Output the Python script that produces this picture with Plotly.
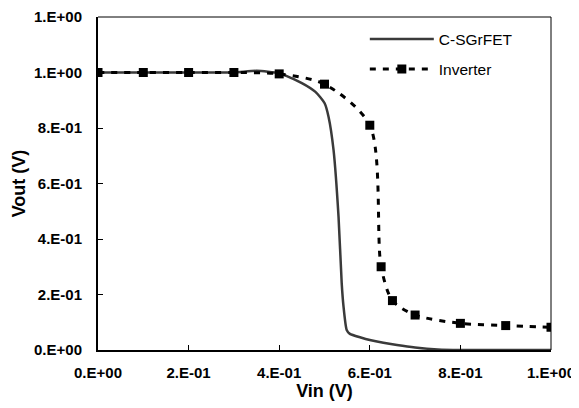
import plotly.graph_objects as go

# C-SGrFET transfer curve
fet_vin = [0.0, 0.1, 0.2, 0.3, 0.35, 0.4, 0.45, 0.48, 0.5, 0.509, 0.52, 0.531, 0.538, 0.542, 0.549,
           0.556, 0.58, 0.6, 0.63, 0.66, 0.7, 0.75, 0.8, 0.9, 1.0]
fet_vout = [1.0, 1.0, 1.0, 1.0, 1.006, 0.997, 0.962, 0.93, 0.89, 0.84, 0.72, 0.48, 0.24, 0.156, 0.072,
            0.058, 0.045, 0.036, 0.026, 0.018, 0.009, 0.002, 0.0, 0.0, 0.0]

# Inverter transfer curve (markers)
inv_vin = [0.0, 0.1, 0.2, 0.3, 0.4, 0.5, 0.6, 0.625, 0.65, 0.7, 0.8, 0.9, 1.0]
inv_vout = [1.0, 1.0, 1.0, 1.0, 0.995, 0.958, 0.81, 0.30, 0.178, 0.126, 0.096, 0.088, 0.082]

x_tickvals = [0.0, 0.2, 0.4, 0.6, 0.8, 1.0]
x_ticktext = ["0.E+00", "2.E-01", "4.E-01", "6.E-01", "8.E-01", "1.E+00"]
y_tickvals = [0.0, 0.2, 0.4, 0.6, 0.8, 1.0, 1.2]
y_ticktext = ["0.E+00", "2.E-01", "4.E-01", "6.E-01", "8.E-01", "1.E+00", "1.E+00"]

FONT = "Liberation Sans, Arial, sans-serif"

fig = go.Figure()
fig.add_trace(go.Scatter(
    x=fet_vin, y=fet_vout, mode="lines", name="C-SGrFET", legendgroup="a",
    line=dict(color="#3a3a3a", width=2.5, shape="spline", smoothing=0.6),
))
fig.add_trace(go.Scatter(
    x=inv_vin, y=inv_vout, mode="lines+markers", name="Inverter", legendgroup="b",
    line=dict(color="black", width=3, dash="6px,7px", shape="spline", smoothing=0.8),
    marker=dict(symbol="square", size=9, color="black"),
))

fig.update_layout(
    width=571, height=400,
    margin=dict(l=90, r=28, t=9, b=58),
    paper_bgcolor="white", plot_bgcolor="white",
    font=dict(family=FONT, color="black"),
    showlegend=True,
    legend=dict(x=0.589, y=0.984, xanchor="left", yanchor="top",
                bgcolor="rgba(0,0,0,0)", font=dict(size=15.5, family=FONT),
                itemwidth=64, tracegroupgap=7),
    shapes=[
        dict(type="line", xref="paper", yref="paper", x0=0, x1=1, y0=1, y1=1,
             line=dict(color="black", width=1)),
        dict(type="line", xref="paper", yref="paper", x0=1, x1=1, y0=0, y1=1,
             line=dict(color="black", width=1)),
    ],
)
fig.update_xaxes(
    range=[0, 1], tickvals=x_tickvals, ticktext=x_ticktext, automargin=False,
    ticks="inside", ticklen=5, tickwidth=1, tickcolor="black",
    showline=True, linecolor="black", linewidth=2, showgrid=False, zeroline=False,
    tickfont=dict(size=15, family=FONT, weight="bold"), ticklabelstandoff=8,
    title=dict(text="<b>Vin (V)</b>", font=dict(size=18, family=FONT), standoff=0),
)
fig.update_yaxes(
    range=[0, 1.2], tickvals=y_tickvals, ticktext=y_ticktext, automargin=False,
    ticks="inside", ticklen=5, tickwidth=1, tickcolor="black",
    showline=True, linecolor="black", linewidth=2, showgrid=False, zeroline=False,
    tickfont=dict(size=15, family=FONT, weight="bold"), ticklabelstandoff=11,
    title=dict(text="<b>Vout (V)</b>", font=dict(size=18, family=FONT), standoff=4),
)

fig.write_html("out.html")
